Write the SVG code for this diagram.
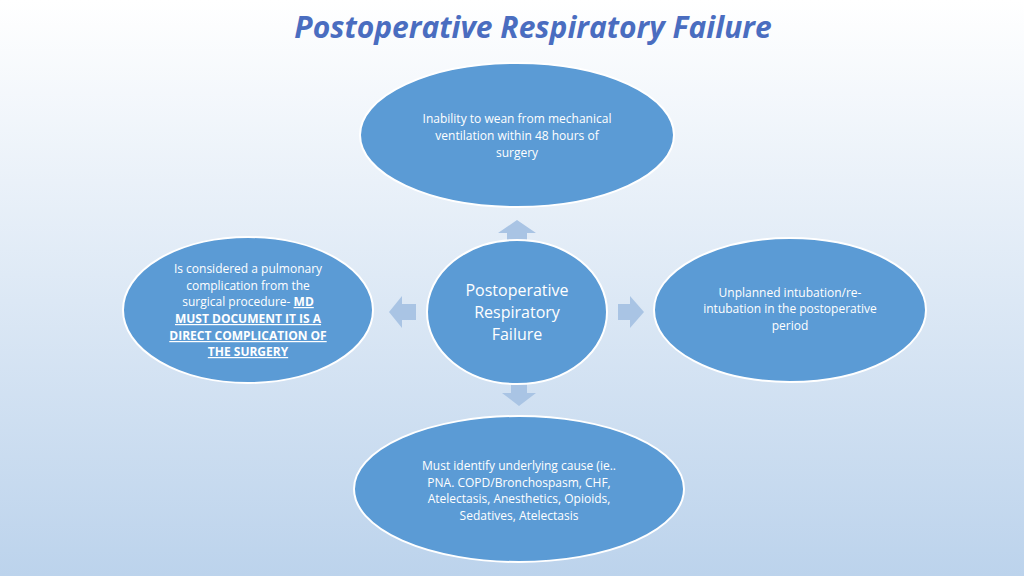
<svg xmlns="http://www.w3.org/2000/svg" width="1024" height="576" viewBox="0 0 1024 576">
<defs>
<linearGradient id="bg" x1="0" y1="0" x2="0" y2="1">
<stop offset="0" stop-color="#ffffff"/><stop offset="1" stop-color="#bcd3ec"/>
</linearGradient>
</defs>
<style>
.n{fill:#5b9bd5;stroke:#ffffff;stroke-width:2}
.t{font-family:"Open Sans","Liberation Sans",sans-serif;font-size:12px;fill:#ffffff;text-anchor:middle}
.c{font-family:"Open Sans","Liberation Sans",sans-serif;font-size:16px;fill:#ffffff;text-anchor:middle}
.a{fill:#a9c4e4}
</style>
<rect width="1024" height="576" fill="url(#bg)"/>
<text x="533" y="38" font-family="Open Sans, Liberation Sans, sans-serif" font-size="30" font-weight="bold" font-style="italic" fill="#4a6dc0" text-anchor="middle">Postoperative Respiratory Failure</text>
<g id="connectors">
<polygon class="a" points="517,220 536,233 527,233 527,244 507,244 507,233 498,233"/>
<polygon class="a" points="389,312 402,296 402,304 416,304 416,320 402,320 402,328"/>
<polygon class="a" points="644,312 630,296 630,304 618,304 618,320 630,320 630,328"/>
<polygon class="a" points="519,406 536,393 527,393 527,380 511,380 511,393 502,393"/>
</g>
<g id="top"><ellipse class="n" cx="517" cy="135" rx="157" ry="72"/>
<text class="t" x="517" y="123">Inability to wean from mechanical</text>
<text class="t" x="517" y="140">ventilation within 48 hours of</text>
<text class="t" x="517" y="157">surgery</text></g>
<g id="left"><ellipse class="n" cx="248" cy="310" rx="125" ry="73"/>
<text class="t" x="248" y="273">Is considered a pulmonary</text>
<text class="t" x="248" y="290">complication from the</text>
<text class="t" x="248" y="306">surgical procedure- <tspan font-weight="bold" text-decoration="underline">MD</tspan></text>
<text class="t" x="248" y="323" font-weight="bold" text-decoration="underline">MUST DOCUMENT IT IS A</text>
<text class="t" x="248" y="340" font-weight="bold" text-decoration="underline">DIRECT COMPLICATION OF</text>
<text class="t" x="248" y="356" font-weight="bold" text-decoration="underline">THE SURGERY</text></g>
<g id="center"><ellipse class="n" cx="517" cy="312" rx="90" ry="72"/>
<text class="c" x="517" y="296">Postoperative</text>
<text class="c" x="517" y="318">Respiratory</text>
<text class="c" x="517" y="340">Failure</text></g>
<g id="right"><ellipse class="n" cx="790" cy="310" rx="136" ry="72"/>
<text class="t" x="790" y="297">Unplanned intubation/re-</text>
<text class="t" x="790" y="313">intubation in the postoperative</text>
<text class="t" x="790" y="330">period</text></g>
<g id="bottom"><ellipse class="n" cx="519" cy="489" rx="165" ry="73"/>
<text class="t" x="519" y="470">Must identify underlying cause (ie..</text>
<text class="t" x="519" y="487">PNA. COPD/Bronchospasm,  CHF,</text>
<text class="t" x="519" y="503">Atelectasis, Anesthetics, Opioids,</text>
<text class="t" x="519" y="520">Sedatives, Atelectasis</text></g>
</svg>
